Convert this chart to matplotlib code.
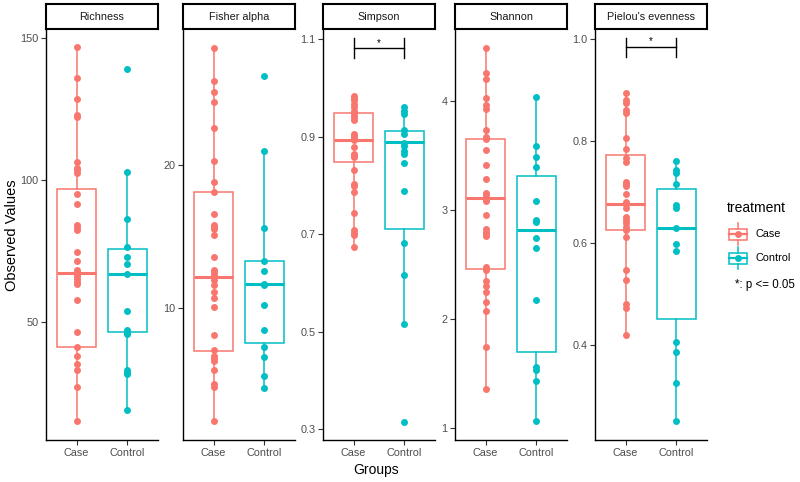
import matplotlib
matplotlib.use('Agg')
import matplotlib.pyplot as plt
from matplotlib.patches import Rectangle

plt.rcParams['font.family'] = ['Liberation Sans', 'DejaVu Sans']

CASE_COL = '#F8766D'
CTRL_COL = '#00BFC4'

groups = ['Case', 'Control']
metrics = ['Richness', 'Fisher alpha', 'Simpson', 'Shannon', "Pielou's evenness"]

richness_case = [146.8, 135.9, 128.4, 122.9, 122.2, 106.5, 104.1, 103.4, 102.6, 95.0, 91.7,
                 84.2, 83.2, 82.3, 74.8, 71.5, 68.4, 67.5, 67.0, 66.1, 65.1, 64.0, 63.5,
                 57.9, 46.4, 41.2, 37.9, 35.1, 33.0, 27.0, 15.1]
richness_ctrl = [139.2, 102.7, 86.3, 76.5, 72.9, 70.3, 66.8, 53.8, 47.3, 46.1, 45.8,
                 33.0, 32.0, 31.6, 19.0]
fisher_case = [28.2, 25.9, 25.1, 24.4, 22.6, 20.3, 18.8, 18.1, 16.6, 15.8, 15.7, 15.5,
               15.1, 13.6, 12.7, 12.5, 12.3, 12.0, 11.6, 11.1, 10.7, 10.1, 8.1, 7.1,
               6.7, 6.5, 6.3, 5.7, 4.7, 4.5, 2.1]
fisher_ctrl = [26.2, 21.0, 15.6, 13.3, 12.6, 11.7, 11.6, 10.2, 8.5, 7.3, 6.6, 5.3, 4.4]
simpson_case = [0.984, 0.979, 0.974, 0.967, 0.961, 0.953, 0.946, 0.940, 0.933, 0.905,
                0.902, 0.897, 0.892, 0.878, 0.865, 0.861, 0.858, 0.832, 0.802, 0.798,
                0.786, 0.744, 0.709, 0.702, 0.699, 0.673]
simpson_ctrl = [0.960, 0.953, 0.946, 0.914, 0.905, 0.886, 0.880, 0.871, 0.865, 0.845,
                0.789, 0.682, 0.616, 0.516, 0.315]
shannon_case = [4.49, 4.26, 4.20, 4.03, 3.96, 3.93, 3.73, 3.67, 3.65, 3.55, 3.41, 3.28,
                3.16, 3.14, 3.10, 3.08, 2.95, 2.83, 2.80, 2.78, 2.76, 2.48, 2.45, 2.35,
                2.30, 2.25, 2.16, 2.07, 1.74, 1.36]
shannon_ctrl = [4.04, 3.59, 3.49, 3.39, 3.08, 2.91, 2.89, 2.74, 2.65, 2.17, 1.56, 1.53,
                1.43, 1.06]
pielou_case = [0.895, 0.881, 0.874, 0.861, 0.856, 0.806, 0.785, 0.766, 0.758, 0.720,
               0.716, 0.711, 0.696, 0.681, 0.676, 0.668, 0.650, 0.645, 0.640, 0.632,
               0.625, 0.612, 0.547, 0.528, 0.481, 0.472, 0.420]
pielou_ctrl = [0.760, 0.743, 0.737, 0.716, 0.675, 0.668, 0.629, 0.597, 0.585, 0.405,
               0.386, 0.324, 0.250]

# box stats: whisker low, q1, median, q3, whisker high
richness_box = [[15.1, 41.2, 67.4, 96.7, 146.8], [19.0, 46.4, 66.8, 75.7, 102.7]]
fisher_box = [[2.1, 7.0, 12.2, 18.1, 28.2], [4.4, 7.6, 11.7, 13.3, 21.0]]
simpson_box = [[0.673, 0.847, 0.893, 0.949, 0.984], [0.516, 0.710, 0.888, 0.912, 0.960]]
shannon_box = [[1.36, 2.46, 3.11, 3.65, 4.49], [1.06, 1.70, 2.82, 3.31, 4.04]]
pielou_box = [[0.420, 0.625, 0.676, 0.772, 0.895], [0.250, 0.450, 0.629, 0.705, 0.760]]

points = [(richness_case, richness_ctrl), (fisher_case, fisher_ctrl),
          (simpson_case, simpson_ctrl), (shannon_case, shannon_ctrl),
          (pielou_case, pielou_ctrl)]
boxes = [richness_box, fisher_box, simpson_box, shannon_box, pielou_box]

y_ticks = [[50, 100, 150], [10, 20], [0.3, 0.5, 0.7, 0.9, 1.1], [1, 2, 3, 4],
           [0.4, 0.6, 0.8, 1.0]]
y_ticklabels = [['50', '100', '150'], ['10', '20'], ['0.3', '0.5', '0.7', '0.9', '1.1'],
                ['1', '2', '3', '4'], ['0.4', '0.6', '0.8', '1.0']]
y_limits = [(8.45, 153.2), (0.8, 29.5), (0.278, 1.1205), (0.89, 4.66), (0.213, 1.020)]

# significance brackets (bracket y, tip bottom, tip top), None where absent
signif = [None, None, (1.0823, 1.0618, 1.1027), None, (0.9856, 0.966, 1.003)]

W, H = 800, 482
fig = plt.figure(figsize=(8, 4.82), dpi=100)
panel_left = [46, 183, 323, 455, 595]
panel_w = 112
top_px, bot_px, strip_top = 29, 440, 4
colors = [CASE_COL, CTRL_COL]

for i, name in enumerate(metrics):
    ax = fig.add_axes([panel_left[i] / W, 1 - bot_px / H, panel_w / W, (bot_px - top_px) / H])
    stats = []
    for b in boxes[i]:
        stats.append(dict(whislo=b[0], q1=b[1], med=b[2], q3=b[3], whishi=b[4], fliers=[]))
    for j in range(2):
        c = colors[j]
        ax.bxp([stats[j]], positions=[j + 1], widths=0.75, showfliers=False, showcaps=False,
               patch_artist=True,
               boxprops=dict(facecolor='white', edgecolor=c, linewidth=1.1),
               whiskerprops=dict(color=c, linewidth=1.1),
               medianprops=dict(color=c, linewidth=2.2))
        vals = points[i][j]
        ax.plot([j + 1] * len(vals), vals, 'o', color=c, markersize=5,
                markeredgewidth=0, zorder=5)
    if signif[i] is not None:
        yb, ylo, yhi = signif[i]
        ax.plot([1, 2], [yb, yb], color='black', lw=1.0)
        ax.plot([1, 1], [ylo, yhi], color='black', lw=1.0)
        ax.plot([2, 2], [ylo, yhi], color='black', lw=1.0)
        ax.text(1.5, yb, '*', ha='center', va='bottom', fontsize=7)
    ax.set_xlim(0.4, 2.6)
    ax.set_ylim(*y_limits[i])
    ax.set_xticks([1, 2])
    ax.set_xticklabels(groups)
    ax.set_yticks(y_ticks[i])
    ax.set_yticklabels(y_ticklabels[i])
    ax.tick_params(labelsize=7.8, labelcolor='#4D4D4D', color='#333333', length=3.5,
                   width=0.8, pad=2)
    for s in ['top', 'right']:
        ax.spines[s].set_visible(False)
    for s in ['left', 'bottom']:
        ax.spines[s].set_linewidth(1.0)
        ax.spines[s].set_color('black')

    # facet strip
    sax = fig.add_axes([panel_left[i] / W, 1 - top_px / H, panel_w / W, (top_px - strip_top) / H])
    sax.set_xticks([])
    sax.set_yticks([])
    for s in sax.spines.values():
        s.set_linewidth(1.5)
        s.set_color('black')
    sax.text(0.5, 0.5, name, ha='center', va='center', fontsize=7.8, color='#1A1A1A',
             transform=sax.transAxes)

fig.text(12 / W, 1 - 235 / H, 'Observed Values', rotation=90, ha='center', va='center',
         fontsize=10.5)
fig.text(376 / W, 1 - 470 / H, 'Groups', ha='center', va='center', fontsize=10)

# legend, drawn in pixel coordinates
lax = fig.add_axes([0, 0, 1, 1], facecolor='none')
lax.set_xlim(0, W)
lax.set_ylim(H, 0)
lax.axis('off')
lax.text(727, 208, 'treatment', ha='left', va='center', fontsize=10)
for k, (lab, c, yc) in enumerate([('Case', CASE_COL, 234), ('Control', CTRL_COL, 258)]):
    lax.add_patch(Rectangle((729, yc - 5.5), 18, 11, facecolor='white', edgecolor=c, lw=1.1))
    lax.plot([738, 738], [yc - 11, yc - 5.5], color=c, lw=1.1)
    lax.plot([738, 738], [yc + 5.5, yc + 11], color=c, lw=1.1)
    lax.plot([729, 747], [yc, yc], color=c, lw=1.6)
    lax.plot([738], [yc], 'o', color=c, markersize=5, markeredgewidth=0)
    lax.text(755, yc, lab, ha='left', va='center', fontsize=7.8)
lax.text(735, 285, '*: p <= 0.05', ha='left', va='center', fontsize=8.3)

fig.savefig('out.png', dpi=100)
